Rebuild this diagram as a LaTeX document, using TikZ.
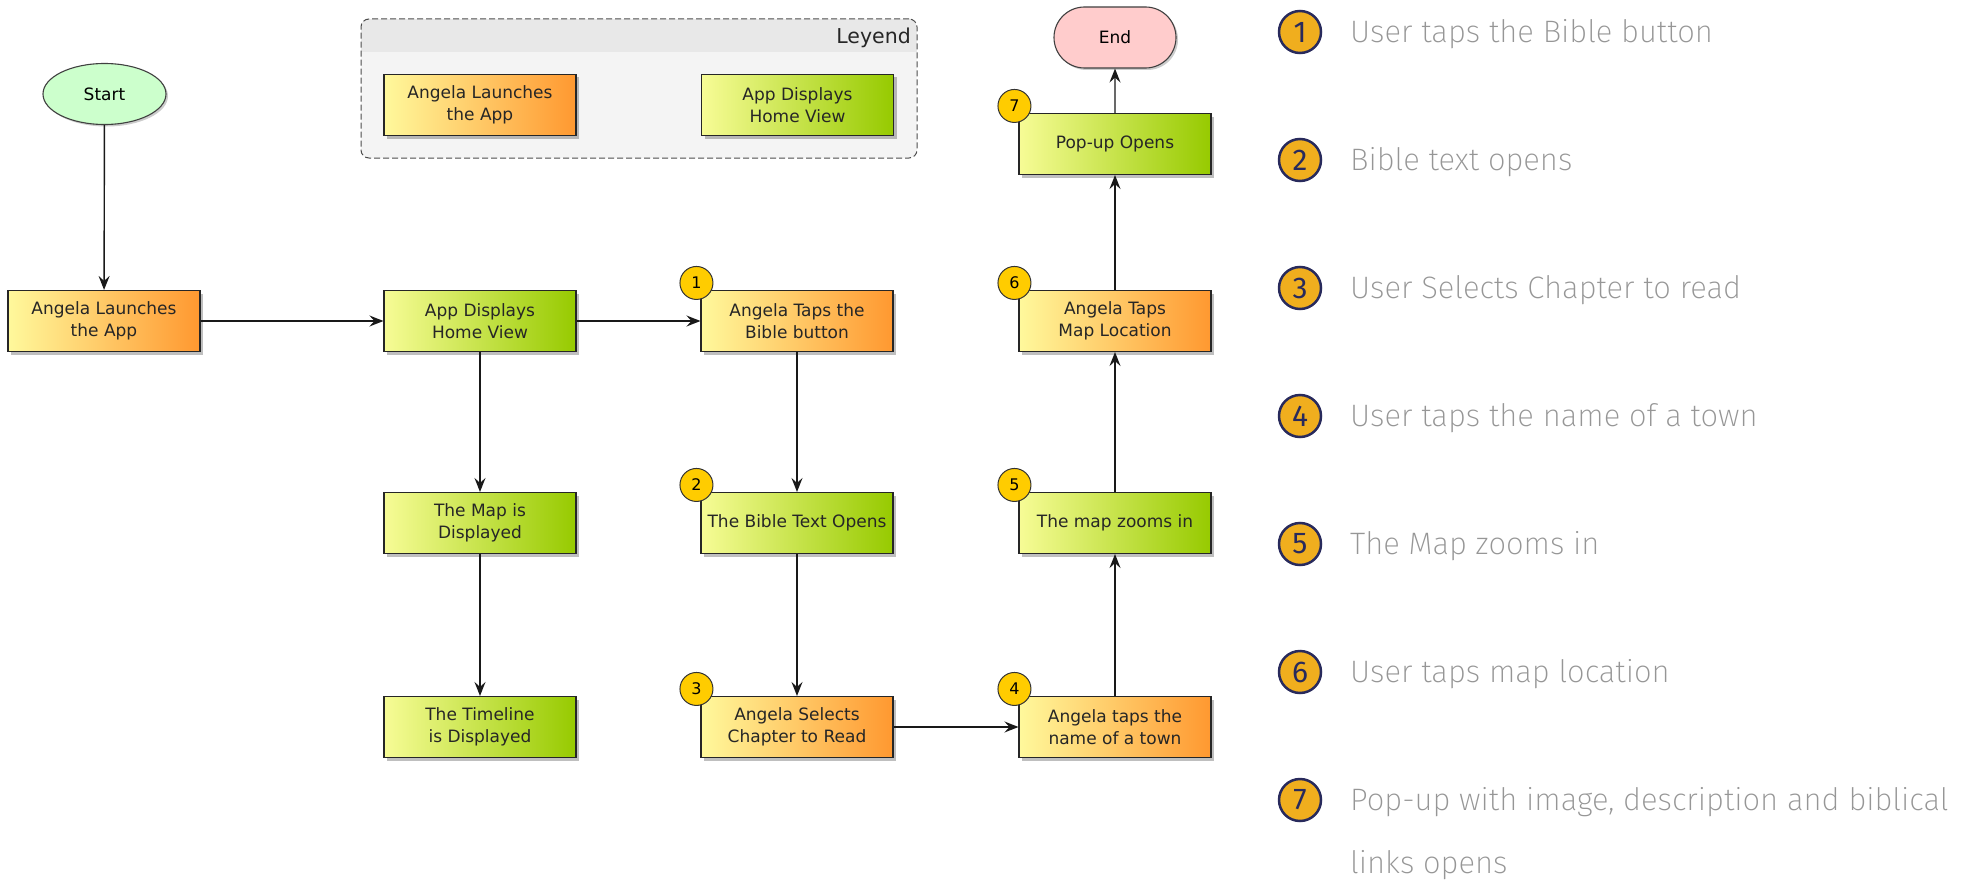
\documentclass[tikz,border=0pt]{standalone}
\usepackage{fontspec}
\setmainfont{DejaVu Sans}
\newfontfamily\listfont{Fira Sans ExtraLight}
\newfontfamily\numfont{Fira Sans}
\usetikzlibrary{shapes.geometric,shapes.misc,shadows,arrows.meta}
\definecolor{oleft}{RGB}{255,249,156}
\definecolor{oright}{RGB}{255,152,48}
\definecolor{gleft}{RGB}{247,252,150}
\definecolor{gright}{RGB}{150,202,0}
\definecolor{badgeyellow}{RGB}{255,204,0}
\definecolor{listorange}{RGB}{240,174,30}
\definecolor{navy}{RGB}{40,42,92}
\definecolor{listgray}{RGB}{150,150,150}
\definecolor{legendbg}{RGB}{244,244,244}
\definecolor{legendhead}{RGB}{232,232,232}
\definecolor{startgreen}{RGB}{204,255,204}
\definecolor{endpink}{RGB}{255,204,204}
\tikzset{
  box/.style={rectangle, draw=black!85, line width=1.1pt, minimum width=192pt,
    minimum height=61pt, align=center, inner sep=0pt,
    font=\fontsize{17pt}{22pt}\selectfont, text=black!85,
    drop shadow={shadow xshift=3pt, shadow yshift=-3pt, opacity=0.25, fill=black}},
  orangebox/.style={box, left color=oleft, right color=oright},
  greenbox/.style={box, left color=gleft, right color=gright},
  flow/.style={-{Stealth[length=14pt,width=11pt,inset=5pt]}, line width=1.4pt, draw=black!90},
  badge/.style={circle, draw=black!80, line width=1pt, fill=badgeyellow,
    minimum size=33pt, inner sep=0pt, font=\fontsize{16pt}{16pt}\selectfont},
  listbadge/.style={circle, draw=navy, line width=2.5pt, fill=listorange,
    minimum size=42pt, inner sep=0pt, font=\numfont\fontsize{30pt}{30pt}\selectfont, text=navy},
  listtext/.style={anchor=base west, inner sep=0pt,
    font=\listfont\fontsize{31pt}{36pt}\selectfont, text=listgray},
}
\begin{document}
\begin{tikzpicture}[x=1pt,y=-1pt]
\fill[white] (0,0) rectangle (1979,883);
\useasboundingbox (0,0) rectangle (1979,883);

% Legend
\begin{scope}
  \path[clip, rounded corners=8pt] (361,19) rectangle (917,158);
  \fill[legendbg] (361,19) rectangle (917,158);
  \fill[legendhead] (361,19) rectangle (917,52);
\end{scope}
\node[draw=black!70, dash pattern=on 6pt off 3pt, line width=1pt, rounded corners=8pt,
  minimum width=556pt, minimum height=139pt, inner sep=0pt] (legend) at (639,88.5) {};
\node[anchor=base east, inner sep=0pt, font=\fontsize{20.5pt}{21pt}\selectfont, text=black!85] (legtitle) at (911,43.3) {Leyend};
\node[orangebox] (legorange) at (480,105) {Angela Launches\\the App};
\node[greenbox] (leggreen) at (797.5,105) {App Displays\\Home View};

% Flow nodes
\node[ellipse, draw=black!75, line width=1.1pt, fill=startgreen, minimum width=123pt,
  minimum height=61pt, inner sep=0pt, font=\fontsize{17pt}{22pt}\selectfont,
  drop shadow={shadow xshift=2pt, shadow yshift=-2pt, opacity=0.2, fill=black}] (start) at (104.5,94) {Start};
\node[rounded rectangle, draw=black!75, line width=1.1pt, fill=endpink, minimum width=122pt,
  minimum height=61pt, inner sep=0pt, font=\fontsize{17pt}{22pt}\selectfont,
  drop shadow={shadow xshift=2pt, shadow yshift=-2pt, opacity=0.2, fill=black}] (end) at (1115,37.5) {End};

\node[orangebox] (launch) at (104,321) {Angela Launches\\the App};
\node[greenbox] (appview) at (480,321) {App Displays\\Home View};
\node[orangebox] (tapbible) at (797,321) {Angela Taps the\\Bible button};
\node[greenbox] (mapdisp) at (480,523) {The Map is\\Displayed};
\node[greenbox] (timeline) at (480,727) {The Timeline\\is Displayed};
\node[greenbox] (bibletext) at (797,523) {The Bible Text Opens};
\node[orangebox] (selects) at (797,727) {Angela Selects\\Chapter to Read};
\node[orangebox] (town) at (1115,727) {Angela taps the\\name of a town};
\node[greenbox] (zoomsin) at (1115,523) {The map zooms in};
\node[orangebox] (tapmap) at (1115,321) {Angela Taps\\Map Location};
\node[greenbox] (popup) at (1115,144) {Pop-up Opens};

% Badges on flow nodes
\node[badge] (b1) at ([shift={(-4pt,7pt)}]tapbible.north west) {1};
\node[badge] (b2) at ([shift={(-4pt,7pt)}]bibletext.north west) {2};
\node[badge] (b3) at ([shift={(-4pt,7pt)}]selects.north west) {3};
\node[badge] (b4) at ([shift={(-4pt,7pt)}]town.north west) {4};
\node[badge] (b5) at ([shift={(-4pt,7pt)}]zoomsin.north west) {5};
\node[badge] (b6) at ([shift={(-4pt,7pt)}]tapmap.north west) {6};
\node[badge] (b7) at ([shift={(-4pt,7pt)}]popup.north west) {7};

% Connectors
\draw[flow] (start) -- (launch);
\draw[flow] (launch) -- (appview);
\draw[flow] (appview) -- (tapbible);
\draw[flow] (appview) -- (mapdisp);
\draw[flow] (mapdisp) -- (timeline);
\draw[flow] (tapbible) -- (bibletext);
\draw[flow] (bibletext) -- (selects);
\draw[flow] (selects) -- (town);
\draw[flow] (town) -- (zoomsin);
\draw[flow] (zoomsin) -- (tapmap);
\draw[flow] (tapmap) -- (popup);
\draw[flow] (popup) -- (end);

% Right-hand list
\node[listbadge] (l1) at (1300,32) {1};
\node[listbadge] (l2) at (1300,160) {2};
\node[listbadge] (l3) at (1300,288) {3};
\node[listbadge] (l4) at (1300,416) {4};
\node[listbadge] (l5) at (1300,544) {5};
\node[listbadge] (l6) at (1300,672) {6};
\node[listbadge] (l7) at (1300,800) {7};
\node[listtext] (t1) at (1350,42.7) {User taps the Bible button};
\node[listtext] (t2) at (1350,170.7) {Bible text opens};
\node[listtext] (t3) at (1350,298.7) {User Selects Chapter to read};
\node[listtext] (t4) at (1350,426.7) {User taps the name of a town};
\node[listtext] (t5) at (1350,554.7) {The Map zooms in};
\node[listtext] (t6) at (1350,682.7) {User taps map location};
\node[listtext] (t7) at (1350,810.7) {Pop-up with image, description and biblical};
\node[listtext] (t7b) at (1350,873.7) {links opens};
\end{tikzpicture}
\end{document}
